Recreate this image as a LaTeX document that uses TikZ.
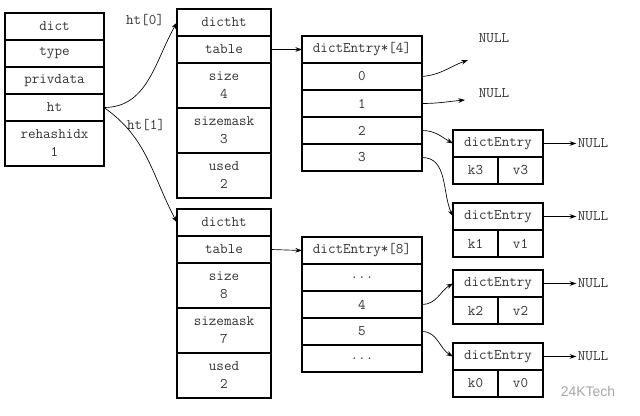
\documentclass[tikz,border=0pt]{standalone}
\usepackage{fontspec}
\newfontfamily\marksans{Liberation Sans}
\usetikzlibrary{arrows.meta, positioning}
\colorlet{celltext}{black!80}

\tikzset{
  cell/.style={draw, line width=0.8pt, inner sep=0pt, outer sep=0pt, align=center,
    font=\ttfamily\fontsize{11}{13.5}\selectfont, text=celltext, minimum height=20.25pt},
  tall/.style={minimum height=33.75pt},
  dictcell/.style={cell, minimum width=74.25pt},
  htcell/.style={cell, minimum width=70.5pt},
  tabcell/.style={cell, minimum width=90pt},
  entcell/.style={cell, minimum width=67.5pt},
  halfcell/.style={cell, minimum width=33.75pt},
  link/.style={-{Stealth[length=5pt,width=3.5pt]}, line width=0.5pt},
  lbl/.style={font=\ttfamily\fontsize{11}{12}\selectfont, text=celltext, inner sep=1pt},
}

\begin{document}
\begin{tikzpicture}[x=0.75pt, y=0.75pt]
    \useasboundingbox (0,0) rectangle (640,-416);

    % dict
    \node[dictcell, anchor=north] (dict) at (54.5,-13) {dict};
    \node[dictcell, below=0pt of dict] (type) {type};
    \node[dictcell, below=0pt of type] (privdata) {privdata};
    \node[dictcell, below=0pt of privdata] (ht) {ht};
    \node[dictcell, tall, below=0pt of ht] (rehash) {rehashidx\\1};

    % ht[0]
    \node[htcell, anchor=north] (htzero) at (224,-9) {dictht};
    \node[htcell, below=0pt of htzero] (tabzero) {table};
    \node[htcell, tall, below=0pt of tabzero] (sizezero) {size\\4};
    \node[htcell, tall, below=0pt of sizezero] (maskzero) {sizemask\\3};
    \node[htcell, tall, below=0pt of maskzero] (usedzero) {used\\2};

    % ht[1]
    \node[htcell, anchor=north] (htone) at (224,-209) {dictht};
    \node[htcell, below=0pt of htone] (tabone) {table};
    \node[htcell, tall, below=0pt of tabone] (sizeone) {size\\8};
    \node[htcell, tall, below=0pt of sizeone] (maskone) {sizemask\\7};
    \node[htcell, tall, below=0pt of maskone] (usedone) {used\\2};

    \node[lbl] (htzerolbl) at (145,-20) {ht[0]};
    \node[lbl] (htonelbl) at (146,-125) {ht[1]};
    \draw[link] (ht.east) to[out=0, in=240] (htzero.west);
    \draw[link] (ht.east) to[out=-35, in=118] (htone.west);

    % table of ht[0]
    \node[tabcell, anchor=north] (arrfour) at (362,-36) {dictEntry*[4]};
    \node[tabcell, below=0pt of arrfour] (bzero) {0};
    \node[tabcell, below=0pt of bzero] (bone) {1};
    \node[tabcell, below=0pt of bone] (btwo) {2};
    \node[tabcell, below=0pt of btwo] (bthree) {3};
    \draw[link] (tabzero.east) -- (arrfour.west);

    % table of ht[1]
    \node[tabcell, anchor=north] (arreight) at (362,-237) {dictEntry*[8]};
    \node[tabcell, below=0pt of arreight] (cdots) {...};
    \node[tabcell, below=0pt of cdots] (cfour) {4};
    \node[tabcell, below=0pt of cfour] (cfive) {5};
    \node[tabcell, below=0pt of cfive] (cmore) {...};
    \draw[link] (tabone.east) -- (arreight.west);

    % empty buckets
    \node[lbl] (nullzero) at (494,-38) {NULL};
    \node[lbl] (nullone) at (494,-93) {NULL};
    \coordinate (zeroend) at (468,-60);
    \coordinate (oneend) at (465,-100);
    \draw[link] (bzero.east) to[out=5, in=200] (zeroend);
    \draw[link] (bone.east) to[out=0, in=185] (oneend);

    % entries
    \node[entcell, anchor=north] (ethree) at (498,-130) {dictEntry};
    \node[halfcell, anchor=north west] (kthree) at (ethree.south west) {k3};
    \node[halfcell, anchor=north east] (vthree) at (ethree.south east) {v3};

    \node[entcell, anchor=north] (eone) at (498,-203) {dictEntry};
    \node[halfcell, anchor=north west] (kone) at (eone.south west) {k1};
    \node[halfcell, anchor=north east] (vone) at (eone.south east) {v1};

    \node[entcell, anchor=north] (etwo) at (498,-270) {dictEntry};
    \node[halfcell, anchor=north west] (ktwo) at (etwo.south west) {k2};
    \node[halfcell, anchor=north east] (vtwo) at (etwo.south east) {v2};

    \node[entcell, anchor=north] (enull) at (498,-343) {dictEntry};
    \node[halfcell, anchor=north west] (knull) at (enull.south west) {k0};
    \node[halfcell, anchor=north east] (vnull) at (enull.south east) {v0};

    \draw[link] (btwo.east) to[out=0, in=150] (ethree.west);
    \draw[link] (bthree.east) to[out=0, in=115] (eone.west);
    \draw[link] (cfour.east) to[out=0, in=210] (etwo.west);
    \draw[link] (cfive.east) to[out=0, in=150] (enull.west);

    % next pointers
    \node[lbl, right=25pt of ethree] (nthree) {NULL};
    \node[lbl, right=25pt of eone] (none) {NULL};
    \node[lbl, right=25pt of etwo] (ntwo) {NULL};
    \node[lbl, right=25pt of enull] (nnull) {NULL};
    \draw[link] (ethree.east) -- (nthree.west);
    \draw[link] (eone.east) -- (none.west);
    \draw[link] (etwo.east) -- (ntwo.west);
    \draw[link] (enull.east) -- (nnull.west);

    \node[font=\marksans\fontsize{10.5}{12}\selectfont, text=black!35] (mark) at (588,-391) {24KTech};
\end{tikzpicture}
\end{document}
